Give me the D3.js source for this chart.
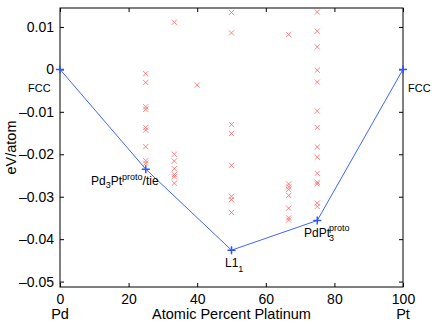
<!DOCTYPE html>
<html>
<head>
<meta charset="utf-8">
<script src="https://cdn.jsdelivr.net/npm/d3@7"></script>
<style>
  body { margin: 0; background: #fff; }
  text { font-family: "Liberation Sans", Arial, Helvetica, sans-serif; fill: #000; }
</style>
</head>
<body>
<div id="chart"></div>
<script>
// convex hull (ground states)
const hullPct = [0, 25, 50, 75, 100];
const hullE   = [0, -0.0235, -0.0426, -0.0356, 0];

// other structures, grouped by composition
const pct25 = [-0.0010, -0.0031, -0.0088, -0.0094, -0.0137, -0.0143, -0.0182, -0.0215, -0.0221];
const pct33 = [0.0111, -0.0200, -0.0216, -0.0234, -0.0248, -0.0253, -0.0268];
const pct40 = [-0.0037];
const pct50 = [0.0134, 0.0086, -0.0130, -0.0151, -0.0226, -0.0299, -0.0307, -0.0337];
const pct67 = [0.0082, -0.0270, -0.0277, -0.0283, -0.0297, -0.0327, -0.0350, -0.0355];
const pct75 = [0.0135, 0.0090, 0.0053, -0.0002, -0.0030, -0.0098, -0.0137, -0.0183, -0.0207,
               -0.0245, -0.0266, -0.0270, -0.0315, -0.0323];

const xTicks = [0, 20, 40, 60, 80, 100];
const yTicks = [0.01, 0, -0.01, -0.02, -0.03, -0.04, -0.05];

const W = 436, H = 324;
const margin = {top: 8, right: 33, bottom: 37, left: 60};
const width = W - margin.left - margin.right;
const height = H - margin.top - margin.bottom;

const others = [];
[[25, pct25], [100 / 3, pct33], [40, pct40], [50, pct50], [200 / 3, pct67], [75, pct75]]
  .forEach(([p, vals]) => vals.forEach(v => others.push({p: p, e: v})));

const hull = hullPct.map((p, i) => ({p: p, e: hullE[i]}));

const svg = d3.select("#chart").append("svg")
  .attr("width", W).attr("height", H)
  .style("background", "#fff");

const g = svg.append("g")
  .attr("transform", `translate(${margin.left},${margin.top})`);

const x = d3.scaleLinear().domain([0, 100]).range([0, width]);
const y = d3.scaleLinear().domain([-0.05127, 0.01446]).range([height, 0]);

const fmtY = d => d === 0 ? "0" : (d < 0 ? "\u2013" : "") + Math.abs(d).toFixed(2);

// axes, ticks inward (matlab style), box on all sides
const tick = 4;
g.append("g")
  .attr("transform", `translate(0,${height})`)
  .call(d3.axisBottom(x).tickValues(xTicks).tickSize(-tick).tickPadding(7).tickFormat(d3.format("d")))
  .call(a => a.select(".domain").remove())
  .selectAll("text").attr("font-size", 14);

g.append("g")
  .call(d3.axisTop(x).tickValues(xTicks).tickSize(-tick).tickFormat(""))
  .call(a => a.select(".domain").remove());

g.append("g")
  .call(d3.axisLeft(y).tickValues(yTicks).tickSize(-tick).tickPadding(6).tickFormat(fmtY))
  .call(a => a.select(".domain").remove())
  .selectAll("text").attr("font-size", 14);

g.append("g")
  .attr("transform", `translate(${width},0)`)
  .call(d3.axisRight(y).tickValues(yTicks).tickSize(-tick).tickFormat(""))
  .call(a => a.select(".domain").remove());

g.selectAll(".tick line").attr("stroke", "#000");

g.append("rect")
  .attr("width", width).attr("height", height)
  .attr("fill", "none").attr("stroke", "#000").attr("stroke-width", 1);

// red crosses for the other structures
const cs = 2.6;
g.append("g").selectAll("path")
  .data(others)
  .join("path")
  .attr("d", d => {
    const cx = x(d.p), cy = y(d.e);
    return `M${cx - cs},${cy - cs}L${cx + cs},${cy + cs}M${cx - cs},${cy + cs}L${cx + cs},${cy - cs}`;
  })
  .attr("stroke", "#ff5a5a")
  .attr("stroke-opacity", 0.75)
  .attr("stroke-width", 1)
  .attr("fill", "none");

// hull line
g.append("path")
  .datum(hull)
  .attr("fill", "none")
  .attr("stroke", "#3d66ff")
  .attr("stroke-width", 1)
  .attr("d", d3.line().x(d => x(d.p)).y(d => y(d.e)));

const ps = 4;
g.append("g").selectAll("path")
  .data(hull)
  .join("path")
  .attr("d", d => {
    const cx = x(d.p), cy = y(d.e);
    return `M${cx - ps},${cy}L${cx + ps},${cy}M${cx},${cy - ps}L${cx},${cy + ps}`;
  })
  .attr("stroke", "#2b55ff")
  .attr("stroke-width", 1.5);

// axis labels
svg.append("text")
  .attr("x", margin.left + x(50)).attr("y", 319)
  .attr("text-anchor", "middle").attr("font-size", 14.5)
  .text("Atomic Percent Platinum");

svg.append("text")
  .attr("x", margin.left).attr("y", 319)
  .attr("text-anchor", "middle").attr("font-size", 14.5)
  .text("Pd");

svg.append("text")
  .attr("x", margin.left + width).attr("y", 319)
  .attr("text-anchor", "middle").attr("font-size", 14.5)
  .text("Pt");

svg.append("text")
  .attr("transform", `translate(16,${margin.top + height / 2}) rotate(-90)`)
  .attr("text-anchor", "middle").attr("font-size", 14.5)
  .text("eV/atom");

// structure labels
svg.append("g").attr("font-size", 11).call(s => {
  s.append("text").attr("x", 28).attr("y", 92).text("FCC");
  s.append("text").attr("x", 408).attr("y", 92).text("FCC");
});

const lbl = svg.append("g").attr("font-size", 12);

const t1 = lbl.append("text").attr("x", 91).attr("y", 185);
t1.append("tspan").text("Pd");
t1.append("tspan").attr("font-size", 9).attr("dy", 3).text("3");
t1.append("tspan").attr("dy", -3).text("Pt");
t1.append("tspan").attr("font-size", 9).attr("dy", -5).text("proto");
t1.append("tspan").attr("dy", 5).text("/tie");

const t2 = lbl.append("text").attr("x", 225).attr("y", 267);
t2.append("tspan").text("L1");
t2.append("tspan").attr("font-size", 9).attr("dy", 5).text("1");

const t3 = lbl.append("text").attr("x", 304).attr("y", 237);
t3.append("tspan").text("PdPt");
t3.append("tspan").attr("font-size", 9).attr("dy", 4).attr("x", 329).text("3");
t3.append("tspan").attr("font-size", 9).attr("dy", -10).attr("x", 329).text("proto");
</script>
</body>
</html>
